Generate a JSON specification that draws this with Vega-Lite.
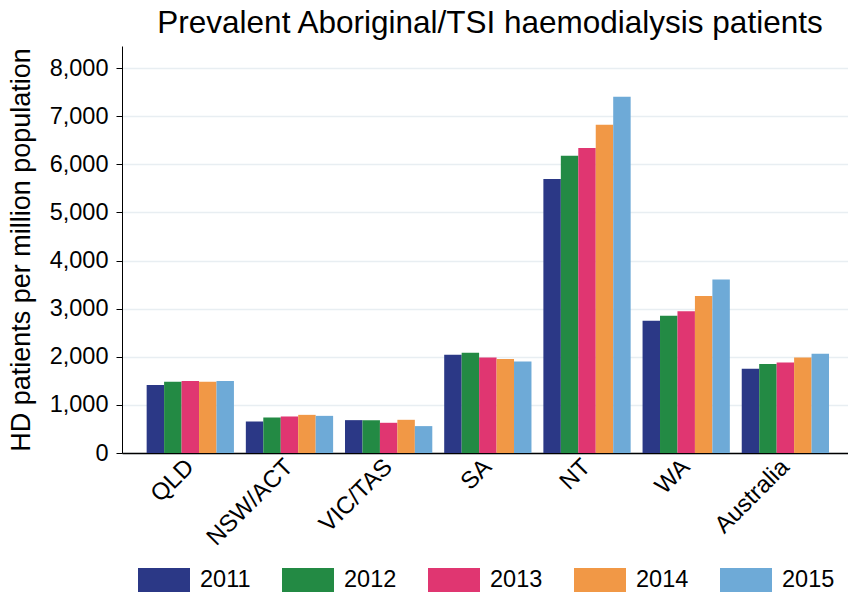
{
  "$schema": "https://vega.github.io/schema/vega-lite/v6.json",
  "autosize": "none",
  "width": 726,
  "height": 407,
  "padding": {"left": 122, "top": 46, "right": 0, "bottom": 141},
  "background": "white",
  "title": {
    "text": "Prevalent Aboriginal/TSI haemodialysis patients",
    "font": "Liberation Sans",
    "fontSize": 31.5,
    "fontWeight": "normal",
    "color": "black",
    "offset": 7,
    "dx": 5
  },
  "config": {
    "view": {"stroke": null},
    "font": "Liberation Sans"
  },
  "data": {
    "values": [
      {"region": "QLD", "year": "2011", "value": 1414},
      {"region": "QLD", "year": "2012", "value": 1483},
      {"region": "QLD", "year": "2013", "value": 1497},
      {"region": "QLD", "year": "2014", "value": 1483},
      {"region": "QLD", "year": "2015", "value": 1497},
      {"region": "NSW/ACT", "year": "2011", "value": 655},
      {"region": "NSW/ACT", "year": "2012", "value": 738},
      {"region": "NSW/ACT", "year": "2013", "value": 759},
      {"region": "NSW/ACT", "year": "2014", "value": 793},
      {"region": "NSW/ACT", "year": "2015", "value": 772},
      {"region": "VIC/TAS", "year": "2011", "value": 683},
      {"region": "VIC/TAS", "year": "2012", "value": 683},
      {"region": "VIC/TAS", "year": "2013", "value": 628},
      {"region": "VIC/TAS", "year": "2014", "value": 690},
      {"region": "VIC/TAS", "year": "2015", "value": 559},
      {"region": "SA", "year": "2011", "value": 2041},
      {"region": "SA", "year": "2012", "value": 2083},
      {"region": "SA", "year": "2013", "value": 1986},
      {"region": "SA", "year": "2014", "value": 1952},
      {"region": "SA", "year": "2015", "value": 1903},
      {"region": "NT", "year": "2011", "value": 5696},
      {"region": "NT", "year": "2012", "value": 6180},
      {"region": "NT", "year": "2013", "value": 6339},
      {"region": "NT", "year": "2014", "value": 6824},
      {"region": "NT", "year": "2015", "value": 7405},
      {"region": "WA", "year": "2011", "value": 2747},
      {"region": "WA", "year": "2012", "value": 2851},
      {"region": "WA", "year": "2013", "value": 2948},
      {"region": "WA", "year": "2014", "value": 3266},
      {"region": "WA", "year": "2015", "value": 3606},
      {"region": "Australia", "year": "2011", "value": 1751},
      {"region": "Australia", "year": "2012", "value": 1848},
      {"region": "Australia", "year": "2013", "value": 1882},
      {"region": "Australia", "year": "2014", "value": 1986},
      {"region": "Australia", "year": "2015", "value": 2062}
    ]
  },
  "mark": {"type": "bar"},
  "encoding": {
    "x": {
      "field": "region",
      "type": "nominal",
      "sort": ["QLD", "NSW/ACT", "VIC/TAS", "SA", "NT", "WA", "Australia"],
      "scale": {"paddingInner": 0.12, "paddingOuter": 0.22, "align": 0.565},
      "axis": {
        "title": null,
        "labelAngle": -45,
        "labelAlign": "right",
        "labelBaseline": "middle",
        "labelFont": "Liberation Sans",
        "labelFontSize": 24,
        "labelColor": "black",
        "labelPadding": 10,
        "ticks": false,
        "domainColor": "black",
        "domainWidth": 1.5,
        "grid": false
      }
    },
    "xOffset": {
      "field": "year",
      "type": "nominal",
      "scale": {"paddingInner": 0, "paddingOuter": 0}
    },
    "y": {
      "field": "value",
      "type": "quantitative",
      "scale": {"domain": [0, 8460], "nice": false},
      "axis": {
        "title": "HD patients per million population",
        "titleFont": "Liberation Sans",
        "titleFontSize": 27,
        "titleFontWeight": "normal",
        "titleColor": "black",
        "titlePadding": 14,
        "values": [0, 1000, 2000, 3000, 4000, 5000, 6000, 7000, 8000],
        "format": ",.0f",
        "labelFont": "Liberation Sans",
        "labelFontSize": 23.5,
        "labelColor": "black",
        "labelPadding": 8,
        "tickColor": "black",
        "tickSize": 6,
        "domainColor": "black",
        "domainWidth": 1,
        "gridColor": "#e8eef2",
        "gridWidth": 1.5
      }
    },
    "color": {
      "field": "year",
      "type": "nominal",
      "scale": {
        "domain": ["2011", "2012", "2013", "2014", "2015"],
        "range": ["#2b3886", "#238a44", "#e03671", "#f19846", "#6eaad7"]
      },
      "legend": {
        "title": null,
        "orient": "none",
        "direction": "horizontal",
        "legendX": 16,
        "legendY": 508,
        "padding": 0,
        "symbolType": "M-1,-0.46H1V0.46H-1Z",
        "symbolSize": 2704,
        "symbolStrokeWidth": 0,
        "symbolOpacity": 1,
        "labelFont": "Liberation Sans",
        "labelFontSize": 23.5,
        "labelColor": "black",
        "labelOffset": 10,
        "columnPadding": 31
      }
    }
  }
}
